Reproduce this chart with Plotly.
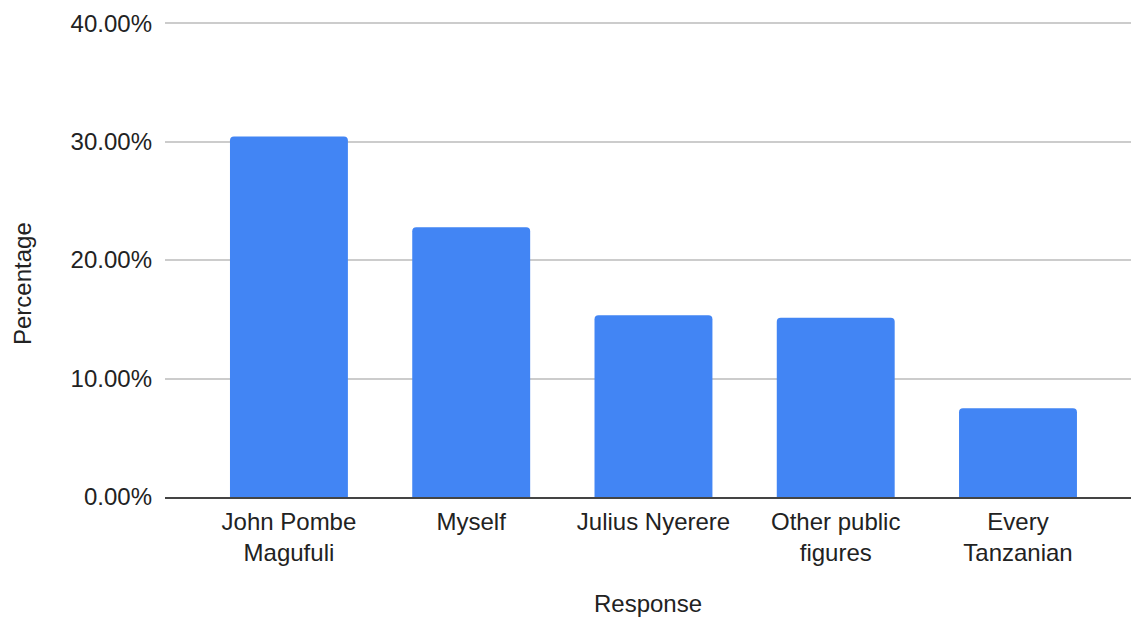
import plotly.graph_objects as go

# Survey responses and their share (%)
categories = [
    "John Pombe<br>Magufuli",
    "Myself",
    "Julius Nyerere",
    "Other public<br>figures",
    "Every<br>Tanzanian",
]
percentages = [30.43, 22.78, 15.35, 15.14, 7.49]
y_ticks = [0, 10, 20, 30, 40]

FONT = "Liberation Sans, Arial, Helvetica, sans-serif"
TEXT = "#222222"

# Plot area geometry (pixels)
PLOT_TOP, PLOT_BOTTOM = 22, 497
Y_MAX = 40.1  # a hair above 40 so the top gridline is kept

fig = go.Figure(
    go.Bar(
        x=list(range(len(categories))),
        y=percentages,
        marker=dict(color="#4285F4", line=dict(width=0)),
        hovertemplate="%{y:.2f}%<extra></extra>",
    )
)

fig.update_layout(
    width=1131,
    height=617,
    margin=dict(l=165, r=0, t=PLOT_TOP, b=617 - PLOT_BOTTOM),
    paper_bgcolor="white",
    plot_bgcolor="white",
    bargap=0.353,
    barcornerradius=4,
    showlegend=False,
    font=dict(family=FONT, size=24, color=TEXT),
    xaxis=dict(
        tickmode="array",
        tickvals=list(range(len(categories))),
        ticktext=categories,
        range=[-0.68, 4.62],
        showgrid=False,
        showline=True,
        linecolor="#444444",
        linewidth=1.5,
        ticks="",
        ticklabelstandoff=2,
        tickfont=dict(family=FONT, size=24, color=TEXT),
        title=dict(text="Response", standoff=30,
                   font=dict(family=FONT, size=24, color=TEXT)),
    ),
    yaxis=dict(
        range=[0, Y_MAX],
        tickmode="array",
        tickvals=y_ticks,
        ticktext=[f"{v:.2f}%" for v in y_ticks],
        showgrid=True,
        gridcolor="#cccccc",
        gridwidth=1.5,
        zeroline=False,
        showline=False,
        ticks="",
        ticklabelstandoff=12,
        tickfont=dict(family=FONT, size=24, color=TEXT),
    ),
    annotations=[
        dict(
            text="Percentage",
            textangle=-90,
            xref="paper", yref="paper",
            x=-(165 - 22) / 966, y=(PLOT_BOTTOM - 284) / (PLOT_BOTTOM - PLOT_TOP),
            xanchor="center", yanchor="middle",
            showarrow=False,
            font=dict(family=FONT, size=24, color=TEXT),
        )
    ],
)

fig.write_html("out.html")
